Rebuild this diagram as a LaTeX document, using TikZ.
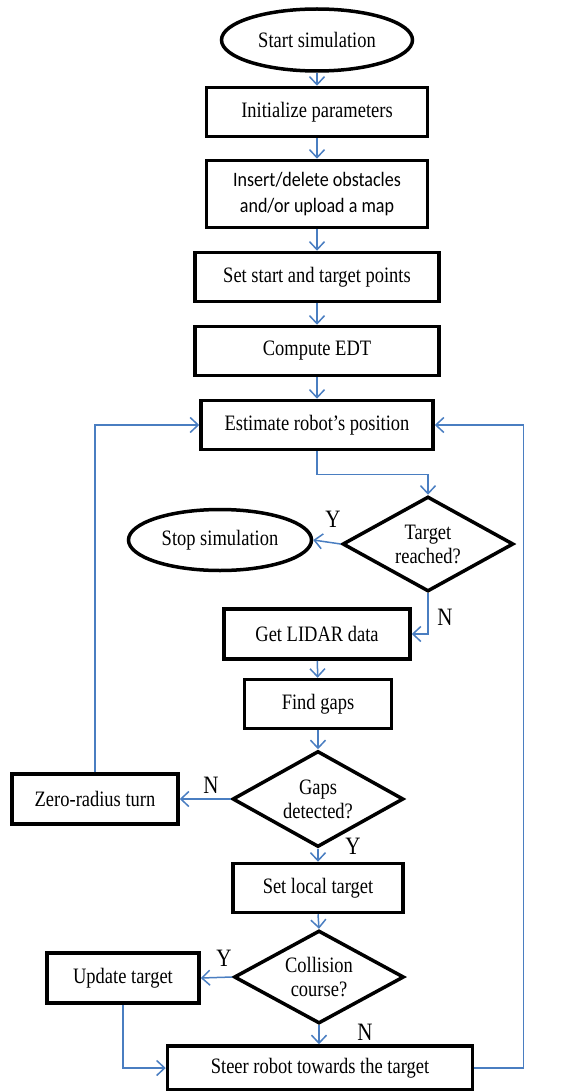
\documentclass[tikz,border=0pt]{standalone}
\usepackage{fontspec}
\setmainfont{Liberation Serif}[FakeStretch=0.84]
\newfontfamily\calfont{Carlito}[FakeStretch=0.88]
\usetikzlibrary{arrows.meta,shapes.geometric}
\definecolor{flowblue}{RGB}{74,126,193}

\begin{document}
\begin{tikzpicture}[x=1pt, y=-1pt,
    box/.style={draw, line width=3.5pt, rectangle, inner sep=0pt, align=center,
        font=\fontsize{22}{24}\selectfont},
    term/.style={draw, line width=3.5pt, ellipse, inner sep=0pt,
        font=\fontsize{22}{24}\selectfont},
    decision/.style={draw, line width=3.5pt, diamond, inner sep=0pt, aspect=1.8,
        align=center, font=\fontsize{22}{24}\selectfont},
    flow/.style={draw=flowblue, line width=1.5pt,
        -{Straight Barb[length=8pt,width=15pt]}},
    lbl/.style={font=\fontsize{25}{25}\selectfont}]
    \useasboundingbox (0,0) rectangle (585,1091);

    % setup part
    \node[term, minimum width=191, minimum height=62] (start) at (317,40) {Start simulation};
    \node[box, minimum width=221, minimum height=49] (init) at (317,112) {Initialize parameters};
    \node[box, minimum width=221, minimum height=67, font=\calfont\fontsize{20.5}{26}\selectfont]
        (obst) at (317,194) {Insert/delete obstacles\\and/or upload a map};
    \node[box, minimum width=244, minimum height=49] (points) at (317,277) {Set start and target points};
    \node[box, minimum width=244, minimum height=49] (edt) at (317,351) {Compute EDT};

    % main loop
    \node[box, minimum width=232, minimum height=49] (pos) at (317,425) {Estimate robot’s position};
    \node[decision, minimum width=171, minimum height=95] (reached) at (428,544) {Target\\reached?};
    \node[term, minimum width=183, minimum height=61] (stop) at (220,540) {Stop simulation};
    \node[box, minimum width=186, minimum height=50] (lidar) at (317,634) {Get LIDAR data};
    \node[box, minimum width=147, minimum height=49] (findgaps) at (318,704) {Find gaps};
    \node[decision, minimum width=171, minimum height=96] (detected) at (318,799) {Gaps\\detected?};
    \node[box, minimum width=166, minimum height=50] (turn) at (95,799) {Zero-radius turn};
    \node[box, minimum width=170, minimum height=49] (local) at (318,888) {Set local target};
    \node[decision, minimum width=170, minimum height=93] (collision) at (319,977) {Collision\\course?};
    \node[box, minimum width=152, minimum height=50] (update) at (123,978) {Update target};
    \node[box, minimum width=305, minimum height=44] (steer) at (320,1068) {Steer robot towards the target};

    % answers
    \node[lbl] (yreached) at (333,519) {Y};
    \node[lbl] (nreached) at (445,617) {N};
    \node[lbl] (ndetected) at (211,785) {N};
    \node[lbl] (ydetected) at (353,846) {Y};
    \node[lbl] (ycollision) at (224,958) {Y};
    \node[lbl] (ncollision) at (365,1032) {N};

    % arrows
    \draw[flow] (start) -- (init);
    \draw[flow] (init) -- (obst);
    \draw[flow] (obst) -- (points);
    \draw[flow] (points) -- (edt);
    \draw[flow] (edt) -- (pos);
    \draw[flow] (pos.south) -- ++(0,23) -| (reached.north);
    \draw[flow] (reached.west) -- (stop.east);
    \draw[flow] (reached.south) |- (lidar.east);
    \draw[flow] (lidar) -- (findgaps);
    \draw[flow] (findgaps) -- (detected);
    \draw[flow] (detected.west) -- (turn.east);
    \draw[flow] (turn.north) |- (pos.west);
    \draw[flow] (detected.south) -- (local.north);
    \draw[flow] (local.south) -- (collision.north);
    \draw[flow] (collision.west) -- (update.east);
    \draw[flow] (collision.south) -- (collision.south |- steer.north);
    \draw[flow] (update.south) |- (steer.west);
    \draw[flow] (steer.east) -- ++(49,0) |- (pos.east);
\end{tikzpicture}
\end{document}
